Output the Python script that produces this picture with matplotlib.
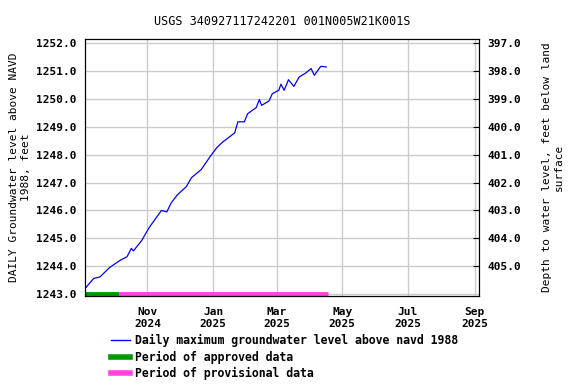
import pandas as pd
import matplotlib
matplotlib.use('Agg')
import matplotlib.pyplot as plt
import matplotlib.dates as mdates

plt.rcParams['font.family'] = 'DejaVu Sans Mono'
plt.rcParams['font.weight'] = 'bold'
plt.rcParams['font.size'] = 8

# Daily maximum groundwater level
dates = ['2024-09-04', '2024-09-12', '2024-09-18', '2024-09-27', '2024-10-07',
         '2024-10-13', '2024-10-17', '2024-10-19', '2024-10-27', '2024-10-30',
         '2024-11-03', '2024-11-14', '2024-11-19', '2024-11-23', '2024-11-29',
         '2024-12-07', '2024-12-12', '2024-12-21', '2024-12-29', '2025-01-01',
         '2025-01-05', '2025-01-10', '2025-01-21', '2025-01-24', '2025-01-30',
         '2025-02-02', '2025-02-10', '2025-02-13', '2025-02-15', '2025-02-22',
         '2025-02-25', '2025-03-03', '2025-03-05', '2025-03-08', '2025-03-12',
         '2025-03-17', '2025-03-22', '2025-03-28', '2025-04-02', '2025-04-05',
         '2025-04-11', '2025-04-16']
levels = [1243.20, 1243.56, 1243.62, 1243.96, 1244.22,
          1244.34, 1244.64, 1244.55, 1244.94, 1245.15,
          1245.41, 1246.00, 1245.95, 1246.27, 1246.57,
          1246.85, 1247.18, 1247.47, 1247.92, 1248.08,
          1248.28, 1248.46, 1248.78, 1249.18, 1249.18,
          1249.47, 1249.69, 1249.98, 1249.77, 1249.93,
          1250.19, 1250.31, 1250.53, 1250.31, 1250.69,
          1250.45, 1250.79, 1250.93, 1251.09, 1250.85,
          1251.17, 1251.15]

approved = ['2024-09-04', '2024-10-06']
provisional = ['2024-10-06', '2025-04-18']

land_surface = 1649.0  # depth = land_surface - level

x = pd.to_datetime(dates)

fig = plt.figure(figsize=(5.76, 3.84), dpi=100)
ax = fig.add_axes([0.1476, 0.229, 0.684, 0.6694])

ax.plot(x, levels, color='#0000ff', lw=0.9)
ax.plot(pd.to_datetime(approved), [1243.0, 1243.0], color='#009900', lw=3.5,
        solid_capstyle='butt')
ax.plot(pd.to_datetime(provisional), [1243.0, 1243.0], color='#ff44dd', lw=3.5,
        solid_capstyle='butt')

ax.set_xlim(pd.Timestamp('2024-09-04'), pd.Timestamp('2025-09-05'))
ax.set_ylim(1242.93, 1252.15)
ax.set_yticks([1243 + i for i in range(10)])
ax.yaxis.set_major_formatter(plt.FormatStrFormatter('%.1f'))
ax.xaxis.set_major_locator(mdates.MonthLocator(bymonth=[1, 3, 5, 7, 9, 11]))
ax.xaxis.set_major_formatter(mdates.DateFormatter('%b\n%Y'))
ax.grid(True, color='#cccccc', lw=1)
ax.tick_params(axis='y', length=0, pad=6)
ax.tick_params(axis='x', length=0, pad=8)
ax.set_ylabel('DAILY Groundwater level above NAVD\n1988, feet', labelpad=4)
ax.set_title('USGS 340927117242201 001N005W21K001S', fontsize=8.5,
             fontweight='normal', pad=10)

ax2 = ax.twinx()
lo, hi = ax.get_ylim()
ax2.set_ylim(land_surface - lo, land_surface - hi)
ax2.set_yticks([397 + i for i in range(9)])
ax2.yaxis.set_major_formatter(plt.FormatStrFormatter('%.1f'))
ax2.tick_params(axis='y', direction='in', length=4, pad=6)
ax2.set_ylabel('Depth to water level, feet below land\nsurface', labelpad=15)

handles = [plt.Line2D([], [], color='#0000ff', lw=1),
           plt.Line2D([], [], color='#009900', lw=4),
           plt.Line2D([], [], color='#ff44dd', lw=4)]
labels = ['Daily maximum groundwater level above navd 1988',
          'Period of approved data',
          'Period of provisional data']
fig.legend(handles, labels, loc='upper left', bbox_to_anchor=(0.182, 0.145),
           frameon=False, handlelength=1.7, handletextpad=0.4,
           labelspacing=0.3, borderpad=0, fontsize=8.3)

fig.savefig('out.png', dpi=100)
